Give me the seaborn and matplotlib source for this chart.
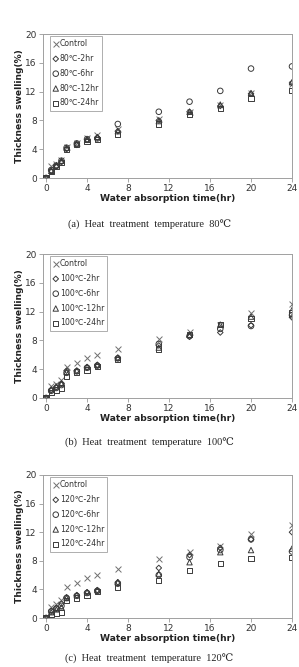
import matplotlib
matplotlib.use("Agg")
import matplotlib.pyplot as plt
import seaborn as sns
import numpy as np

sns.set_theme(style="white")
plt.rcParams['font.family'] = ['DejaVu Sans']

times = [0, 0.5, 1, 1.5, 2, 3, 4, 5, 7, 11, 14, 17, 20, 24]
control = [0, 1.6, 2.0, 2.5, 4.3, 4.9, 5.6, 6.0, 6.8, 8.2, 9.2, 10.1, 11.8, 13.0]

# 80 C
a_2hr = [0, 1.0, 1.6, 2.2, 4.0, 4.6, 5.3, 5.6, 6.5, 8.0, 9.2, 10.0, 11.7, 13.2]
a_6hr = [0, 1.1, 1.7, 2.4, 4.2, 4.8, 5.4, 5.5, 7.5, 9.2, 10.6, 12.1, 15.2, 15.5]
a_12hr = [0, 1.0, 1.8, 2.4, 4.2, 4.8, 5.3, 5.7, 6.5, 7.9, 9.2, 10.2, 11.8, 13.3]
a_24hr = [0, 0.9, 1.6, 2.2, 4.0, 4.6, 5.1, 5.3, 6.0, 7.5, 8.8, 9.7, 11.0, 12.1]

# 100 C
b_2hr = [0, 1.1, 1.5, 2.0, 3.8, 3.8, 4.3, 4.6, 5.6, 7.3, 8.5, 9.1, 10.1, 11.2]
b_6hr = [0, 1.0, 1.4, 1.8, 3.5, 3.7, 4.2, 4.5, 5.5, 7.5, 8.6, 9.6, 10.0, 11.5]
b_12hr = [0, 1.2, 1.6, 2.0, 3.6, 3.8, 4.3, 4.6, 5.6, 7.0, 8.8, 10.2, 11.3, 12.2]
b_24hr = [0, 0.8, 1.1, 1.4, 3.0, 3.6, 3.9, 4.4, 5.3, 6.8, 8.8, 10.2, 11.0, 11.8]

# 120 C
c_2hr = [0, 1.0, 1.4, 2.0, 2.9, 3.2, 3.6, 3.9, 5.0, 7.0, 8.8, 9.8, 11.0, 12.0]
c_6hr = [0, 0.9, 1.3, 1.7, 2.8, 3.1, 3.5, 3.8, 4.8, 6.0, 8.5, 9.5, 11.0, 9.3]
c_12hr = [0, 0.8, 1.2, 1.5, 2.8, 3.2, 3.6, 3.9, 5.0, 6.2, 7.8, 9.2, 9.5, 9.7]
c_24hr = [0, 0.5, 0.7, 0.8, 2.5, 2.8, 3.2, 3.7, 4.3, 5.2, 6.6, 7.6, 8.3, 8.5]

temps = ["80", "100", "120"]
letters = ["a", "b", "c"]
durations = ["2hr", "6hr", "12hr", "24hr"]
panel_series = [[a_2hr, a_6hr, a_12hr, a_24hr],
                [b_2hr, b_6hr, b_12hr, b_24hr],
                [c_2hr, c_6hr, c_12hr, c_24hr]]
markers = ["D", "o", "^", "s"]
msizes = [8, 16, 15, 14]

x_ticks = [0, 4, 8, 12, 16, 20, 24]
y_ticks = [0, 4, 8, 12, 16, 20]

fig = plt.figure(figsize=(2.99, 6.67), dpi=100)
tops = [34, 254, 475]
bots = [178, 398, 618]
cap_y = [225, 443, 659]
L, R = 43, 292
W, H = 299, 667

edge = "#3a3a3a"
grid_c = "#a0a0a0"
for i in range(3):
    ax = fig.add_axes([L / W, 1 - bots[i] / H, (R - L) / W, (bots[i] - tops[i]) / H])
    sns.scatterplot(x=times, y=control, marker="x", s=18, color="#707070",
                    linewidth=0.7, ax=ax, label="Control", zorder=3)
    for ser, m, ms, d in zip(panel_series[i], markers, msizes, durations):
        sns.scatterplot(x=times, y=ser, marker=m, s=ms, facecolors="none",
                        edgecolor=edge, linewidth=0.7, ax=ax,
                        label=f"{temps[i]}\u2103-{d}", zorder=3)
    ax.set_xlim(-0.3, 24)
    ax.set_ylim(0, 20)
    ax.set_xticks(x_ticks)
    ax.set_yticks(y_ticks)
    ax.tick_params(axis="both", labelsize=6.5, length=3,
                   width=0.6, pad=1.5, direction="out", bottom=True, left=True,
                   colors="#999999", labelcolor="#333333")
    for sp in ax.spines.values():
        sp.set_color(grid_c)
        sp.set_linewidth(0.7)
        sp.set_visible(True)
    ax.set_xlabel("Water absorption time(hr)", fontsize=6.6, fontweight="bold",
                  labelpad=0.5, color="#222222")
    ax.set_ylabel("Thickness swelling(%)", fontsize=6.6, fontweight="bold",
                  labelpad=1, color="#222222")
    leg = ax.legend(loc="upper left", fontsize=5.6, frameon=True, fancybox=False,
                    borderpad=0.4, handletextpad=0.15, labelspacing=0.75,
                    handlelength=0.7, borderaxespad=0.25,
                    bbox_to_anchor=(0.02, 1.0), markerscale=1.0)
    leg.get_frame().set_edgecolor("#999999")
    leg.get_frame().set_linewidth(0.7)
    for t in leg.get_texts():
        t.set_color("#333333")
    fig.text(0.5, 1 - cap_y[i] / H,
             f"({letters[i]})  Heat  treatment  temperature  {temps[i]}\u2103",
             ha="center", va="center", fontsize=7.5,
             family=["Liberation Serif", "DejaVu Serif"], color="#222222")

fig.savefig("out.png", dpi=100)
